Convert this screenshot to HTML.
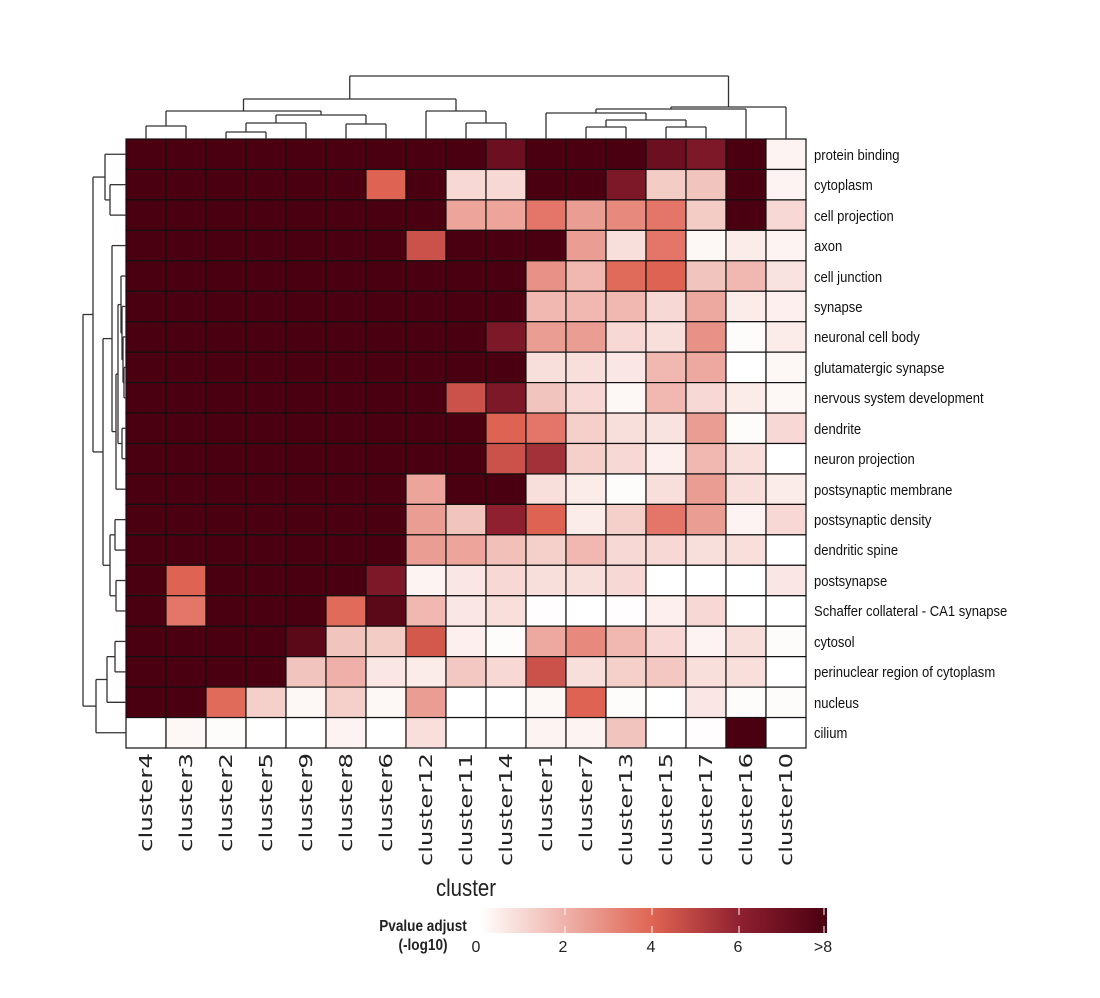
<!DOCTYPE html>
<html><head><meta charset="utf-8"><style>
html,body{margin:0;padding:0;background:#fff;}
svg{display:block;}
.rl{font-family:"Liberation Sans",sans-serif;font-size:14.5px;fill:#111;}
.cl{font-family:"DejaVu Sans",sans-serif;font-size:18px;fill:#222;}
</style></head><body>
<svg id="s" width="1100" height="998" viewBox="0 0 1100 998" xmlns="http://www.w3.org/2000/svg">
<defs>
<linearGradient id="cb" x1="0" x2="1" y1="0" y2="0">
<stop offset="0" stop-color="#ffffff"/>
<stop offset="0.25" stop-color="#eeb0a8"/>
<stop offset="0.5" stop-color="#df6352"/>
<stop offset="0.75" stop-color="#8e2030"/>
<stop offset="1" stop-color="#4a0011"/>
</linearGradient>
</defs>
<g id="cells"></g>
<g id="dend" stroke="#333" stroke-width="1.3" fill="none"></g>
<g transform="translate(814,0) scale(0.9,1)">
<text class="rl" x="0" y="160">protein binding</text>
<text class="rl" x="0" y="190">cytoplasm</text>
<text class="rl" x="0" y="221">cell projection</text>
<text class="rl" x="0" y="251">axon</text>
<text class="rl" x="0" y="282">cell junction</text>
<text class="rl" x="0" y="312">synapse</text>
<text class="rl" x="0" y="342">neuronal cell body</text>
<text class="rl" x="0" y="373">glutamatergic synapse</text>
<text class="rl" x="0" y="403">nervous system development</text>
<text class="rl" x="0" y="434">dendrite</text>
<text class="rl" x="0" y="464">neuron projection</text>
<text class="rl" x="0" y="495">postsynaptic membrane</text>
<text class="rl" x="0" y="525">postsynaptic density</text>
<text class="rl" x="0" y="555">dendritic spine</text>
<text class="rl" x="0" y="586">postsynapse</text>
<text class="rl" x="0" y="616">Schaffer collateral - CA1 synapse</text>
<text class="rl" x="0" y="647">cytosol</text>
<text class="rl" x="0" y="677">perinuclear region of cytoplasm</text>
<text class="rl" x="0" y="708">nucleus</text>
<text class="rl" x="0" y="738">cilium</text>
</g>
<g>
<text class="cl" transform="translate(152,753) rotate(-90)" text-anchor="end" textLength="99" lengthAdjust="spacingAndGlyphs">cluster4</text>
<text class="cl" transform="translate(192,753) rotate(-90)" text-anchor="end" textLength="99" lengthAdjust="spacingAndGlyphs">cluster3</text>
<text class="cl" transform="translate(232,753) rotate(-90)" text-anchor="end" textLength="99" lengthAdjust="spacingAndGlyphs">cluster2</text>
<text class="cl" transform="translate(272,753) rotate(-90)" text-anchor="end" textLength="99" lengthAdjust="spacingAndGlyphs">cluster5</text>
<text class="cl" transform="translate(312,753) rotate(-90)" text-anchor="end" textLength="99" lengthAdjust="spacingAndGlyphs">cluster9</text>
<text class="cl" transform="translate(352,753) rotate(-90)" text-anchor="end" textLength="99" lengthAdjust="spacingAndGlyphs">cluster8</text>
<text class="cl" transform="translate(392,753) rotate(-90)" text-anchor="end" textLength="99" lengthAdjust="spacingAndGlyphs">cluster6</text>
<text class="cl" transform="translate(432,753) rotate(-90)" text-anchor="end" textLength="113" lengthAdjust="spacingAndGlyphs">cluster12</text>
<text class="cl" transform="translate(472,753) rotate(-90)" text-anchor="end" textLength="113" lengthAdjust="spacingAndGlyphs">cluster11</text>
<text class="cl" transform="translate(512,753) rotate(-90)" text-anchor="end" textLength="113" lengthAdjust="spacingAndGlyphs">cluster14</text>
<text class="cl" transform="translate(552,753) rotate(-90)" text-anchor="end" textLength="99" lengthAdjust="spacingAndGlyphs">cluster1</text>
<text class="cl" transform="translate(592,753) rotate(-90)" text-anchor="end" textLength="99" lengthAdjust="spacingAndGlyphs">cluster7</text>
<text class="cl" transform="translate(632,753) rotate(-90)" text-anchor="end" textLength="113" lengthAdjust="spacingAndGlyphs">cluster13</text>
<text class="cl" transform="translate(672,753) rotate(-90)" text-anchor="end" textLength="113" lengthAdjust="spacingAndGlyphs">cluster15</text>
<text class="cl" transform="translate(712,753) rotate(-90)" text-anchor="end" textLength="113" lengthAdjust="spacingAndGlyphs">cluster17</text>
<text class="cl" transform="translate(752,753) rotate(-90)" text-anchor="end" textLength="113" lengthAdjust="spacingAndGlyphs">cluster16</text>
<text class="cl" transform="translate(792,753) rotate(-90)" text-anchor="end" textLength="113" lengthAdjust="spacingAndGlyphs">cluster10</text>
</g>
<text x="466" y="896" text-anchor="middle" font-family="Liberation Sans,sans-serif" font-size="24" fill="#222" transform="translate(466,0) scale(0.85,1) translate(-466,0)">cluster</text>
<rect x="480" y="908" width="347" height="25" fill="url(#cb)"/>
<g stroke="#fff" stroke-width="1"><line x1="565" y1="908" x2="565" y2="915"/><line x1="565" y1="926" x2="565" y2="933"/><line x1="652" y1="908" x2="652" y2="915"/><line x1="652" y1="926" x2="652" y2="933"/><line x1="739" y1="908" x2="739" y2="915"/><line x1="739" y1="926" x2="739" y2="933"/><line x1="824" y1="908" x2="824" y2="915"/><line x1="824" y1="926" x2="824" y2="933"/></g>
<g font-family="Liberation Sans,sans-serif" font-size="16" fill="#222">
<text x="423" y="931" text-anchor="middle" font-weight="bold" transform="translate(423,0) scale(0.85,1) translate(-423,0)">Pvalue adjust</text>
<text x="423" y="950" text-anchor="middle" font-weight="bold" transform="translate(423,0) scale(0.85,1) translate(-423,0)">(-log10)</text>
<text x="476" y="952" text-anchor="middle">0</text>
<text x="563" y="952" text-anchor="middle">2</text>
<text x="651" y="952" text-anchor="middle">4</text>
<text x="738" y="952" text-anchor="middle">6</text>
<text x="823" y="952" text-anchor="middle">&gt;8</text>
</g>
</svg>
<script>
(function(){
var NS="http://www.w3.org/2000/svg";
var E=8;
var M=[
[E,E,E,E,E,E,E,E,E,7,E,E,E,7,6.5,E,0.3],
[E,E,E,E,E,E,4,E,1,1,E,E,6.5,1.3,1.5,E,0.3],
[E,E,E,E,E,E,E,E,2.3,2.3,3.5,2.5,3,3.5,1.3,E,1],
[E,E,E,E,E,E,E,4.5,E,E,E,2.5,0.8,3.5,0.2,0.5,0.3],
[E,E,E,E,E,E,E,E,E,E,2.8,1.8,3.8,4,1.5,1.8,0.7],
[E,E,E,E,E,E,E,E,E,E,1.8,1.8,1.8,1,2.2,0.5,0.4],
[E,E,E,E,E,E,E,E,E,6.5,2.5,2.5,1,0.8,2.8,0.1,0.5],
[E,E,E,E,E,E,E,E,E,E,0.8,0.8,0.6,1.8,2.2,0,0.2],
[E,E,E,E,E,E,E,E,4.5,6.5,1.5,1,0.2,1.8,1,0.5,0.2],
[E,E,E,E,E,E,E,E,E,4,3.5,1.2,0.8,0.7,2.5,0.1,1],
[E,E,E,E,E,E,E,E,E,4.5,5.5,1.2,1,0.4,1.8,0.8,0],
[E,E,E,E,E,E,E,2.3,E,E,0.8,0.5,0.1,0.8,2.5,0.8,0.5],
[E,E,E,E,E,E,E,2.5,1.5,6,4,0.5,1.2,3.5,2.5,0.3,1],
[E,E,E,E,E,E,E,2.5,2.3,1.6,1.2,1.8,1,1,0.8,0.8,0],
[E,4,E,E,E,E,6.5,0.3,0.6,1,0.8,0.8,1,0,0,0,0.6],
[E,3.5,E,E,E,3.8,7.5,1.8,0.6,0.8,0.05,0,0.05,0.4,1,0,0],
[E,E,E,E,7.5,1.5,1.3,4.3,0.4,0.1,2.2,3,1.8,1,0.3,0.8,0.1],
[E,E,E,E,1.5,2,0.6,0.5,1.4,1,4.5,0.8,1.2,1.4,0.8,0.8,0],
[E,E,3.8,1.2,0.2,1.2,0.2,2.5,0,0,0.2,4,0.1,0,0.6,0.1,0.1],
[0,0.2,0.1,0,0,0.3,0,0.8,0,0,0.3,0.3,1.5,0,0.05,E,0]];
var st=[[255,255,255],[238,176,168],[223,99,82],[142,32,48],[74,0,17]];
function col(v){v=Math.max(0,Math.min(8,v))/2;var i=Math.min(3,Math.floor(v)),f=v-i;var a=st[i],b=st[i+1];
return "rgb("+[0,1,2].map(function(k){return Math.round(a[k]+(b[k]-a[k])*f)}).join(",")+")";}
var g=document.getElementById("cells");
var x0=126,y0=139,cw=40,ch=30.45;
for(var r=0;r<20;r++)for(var c=0;c<17;c++){var e=document.createElementNS(NS,"rect");
e.setAttribute("x",x0+c*cw);e.setAttribute("y",y0+r*ch);e.setAttribute("width",cw);e.setAttribute("height",ch);
e.setAttribute("fill",col(M[r][c]));e.setAttribute("stroke","#111");e.setAttribute("stroke-width","1.2");g.appendChild(e);}
var d=document.getElementById("dend");
function line(a,b,c2,e2){var l=document.createElementNS(NS,"line");l.setAttribute("x1",a);l.setAttribute("y1",b);l.setAttribute("x2",c2);l.setAttribute("y2",e2);d.appendChild(l);}
function top(n){if(typeof n==="number")return [x0+n*cw+cw/2,139];
var a=top(n[1]),b=top(n[2]),h=n[0];line(a[0],a[1],a[0],h);line(b[0],b[1],b[0],h);line(a[0],h,b[0],h);return [(a[0]+b[0])/2,h];}
top([76,[99,[111,[126,0,1],[115,[123,[132,2,3],4],[124,5,6]]],[111,7,[123,8,9]]],[107,[109,[113,10,[120,[127,11,12],[127,13,14]]],15],16]]);
function left(n){if(typeof n==="number")return [y0+n*ch+ch/2,126];
var a=left(n[1]),b=left(n[2]),h=n[0];line(a[1],a[0],h,a[0]);line(b[1],b[0],h,b[0]);line(h,a[0],h,b[0]);return [(a[0]+b[0])/2,h];}
left([83,[93,[105,0,[110,1,2]],[103,[112,3,[116,11,[118,[121,4,[122,5,[123,6,[124,7,8]]]],[122,9,10]]]],[110,[115,12,13],[116,14,15]]]],[96,[107,[115,16,17],18],19]]);
})();
</script>
</body></html>
